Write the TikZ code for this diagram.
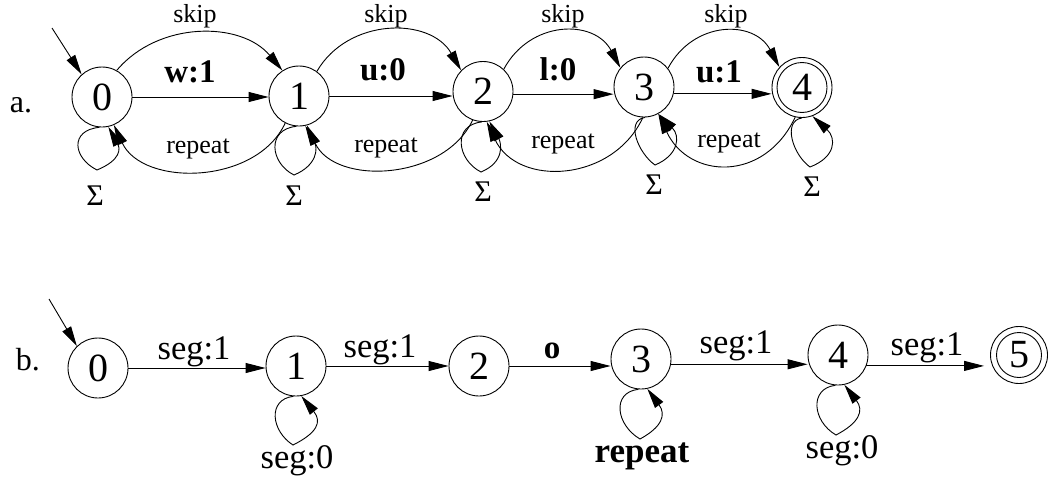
\documentclass[tikz,border=0pt]{standalone}
\usepackage{fontspec}
\setmainfont{Liberation Serif}
\usetikzlibrary{arrows.meta}
\begin{document}
\begin{tikzpicture}[x=1pt,y=1pt,
  state/.style={circle,draw,line width=0.9pt,minimum size=60pt,inner sep=0pt,font=\fontsize{40}{40}\selectfont},
  arr/.style={line width=0.9pt,-{Triangle[length=20pt,width=10pt]}},
  lbl/.style={inner sep=0pt,anchor=base,font=\fontsize{26}{26}\selectfont},
  blbl/.style={inner sep=0pt,anchor=base,font=\fontsize{33}{33}\selectfont\bfseries},
  seglbl/.style={inner sep=0pt,anchor=base,font=\fontsize{34.5}{34.5}\selectfont},
  sig/.style={inner sep=0pt,anchor=base,font=\fontsize{30}{30}\selectfont},
  tag/.style={inner sep=0pt,anchor=base,font=\fontsize{32}{32}\selectfont},
]
\useasboundingbox (0,0) rectangle (1049,-479);

% ---------- a. ----------
\node[tag] (la) at (21,-112) {a.};
\node[state] (n0) at (102,-97) {0};
\node[state] (n1) at (299,-96) {1};
\node[state] (n2) at (483,-91.5) {2};
\node[state] (n3) at (644,-87) {3};
\node[state] (n4) at (802,-87.5) {4};
\draw[line width=0.9pt] (n4.center) circle (25);
\coordinate (s0) at (52,-28);
\draw[arr] (s0) -- (n0.132);

% straight transitions
\draw[arr] (n0.east) -- (n0.east -| n1.west);
\draw[arr] (n1.east) -- (n1.east -| n2.west);
\draw[arr] (n2.-5) -- (n2.-5 -| n3.west);
\draw[arr] (n3.-13) -- (n3.-13 -| n4.west);
\node[blbl] (w1) at (190,-82) {w:1};
\node[blbl] (u0) at (383,-80) {u:0};
\node[blbl] (l0lab) at (558,-80) {l:0};
\node[blbl] (u1) at (719,-82) {u:1};

% skip arcs
\draw[arr] (n0.61) to[out=50,in=130] (n1.123);
\draw[arr] (n1.54) to[out=60,in=120,looseness=1.1] (n2.136);
\draw[arr] (n2.47) to[out=62,in=118,looseness=1.22] (n3.141);
\draw[arr] (n3.38) to[out=62,in=118,looseness=1.24] (n4.138);
\node[lbl] (sk1) at (195,-23) {skip};
\node[lbl] (sk2) at (386,-23) {skip};
\node[lbl] (sk3) at (563,-23) {skip};
\node[lbl] (sk4) at (726,-23) {skip};

% repeat arcs
\draw[arr] (n1.243) to[out=-115,in=-65,looseness=1.02] (n0.293);
\draw[arr] (n2.250) to[out=-115,in=-65,looseness=1.03] (n1.-75);
\draw[arr] (n3.268) to[out=-115,in=-65,looseness=1.18] (n2.-83);
\draw[arr] (n4.257) to[out=-115,in=-65,looseness=1.35] (n3.-62);
\node[lbl] (r1) at (198,-153) {repeat};
\node[lbl] (r2) at (386,-152) {repeat};
\node[lbl] (r3) at (563,-148) {repeat};
\node[lbl] (r4) at (729,-147) {repeat};

% sigma loops
\coordinate (q0) at (97,-170);
\coordinate (q1) at (294,-175);
\coordinate (q2) at (481,-172);
\coordinate (q3) at (655,-165);
\coordinate (q4) at (810,-167);
\draw[arr] (n0.265) .. controls +(-30,-3) and +(-24,12) .. (q0) .. controls +(24,10) and +(12,-22) .. (n0.-78);
\draw[arr] (n1.265) .. controls +(-30,-3) and +(-24,12) .. (q1) .. controls +(24,10) and +(12,-22) .. (n1.-78);
\draw[arr] (n2.268) .. controls +(-30,-3) and +(-24,12) .. (q2) .. controls +(24,10) and +(12,-22) .. (n2.-78);
\draw[arr] (n3.-88) .. controls +(-20,-3) and +(-17,12) .. (q3) .. controls +(24,10) and +(22,-22) .. (n3.-62);
\draw[arr] (n4.-90) .. controls +(-20,-3) and +(-17,12) .. (q4) .. controls +(26,10) and +(24,-22) .. (n4.-70);
\node[sig] (g0) at (95,-205) {Σ};
\node[sig] (g1) at (294,-205) {Σ};
\node[sig] (g2) at (483,-201) {Σ};
\node[sig] (g3) at (654,-194.5) {Σ};
\node[sig] (g4) at (812,-196.5) {Σ};

% ---------- b. ----------
\node[tag] (lb) at (28,-370) {b.};
\node[state] (b0) at (98,-368) {0};
\node[state] (b1) at (296,-366) {1};
\node[state] (b2) at (479,-366) {2};
\node[state] (b3) at (641,-359) {3};
\node[state] (b4) at (838,-355) {4};
\node[state,minimum size=57pt] (b5) at (1019,-355) {5};
\draw[line width=0.9pt] (b5.center) circle (22.5);
\coordinate (t0) at (49,-299);
\draw[arr] (t0) -- (b0.134);

\draw[arr] (b0.east) -- (b0.east -| b1.west);
\draw[arr] (b1.east) -- (b1.east -| b2.west);
\draw[arr] (b2.east) -- (b2.east -| b3.west);
\draw[arr] (b3.-10) -- (b3.-10 -| b4.west);
\draw[arr,shorten >=6pt] (b4.-21) -- (b4.-21 -| b5.west);
\node[seglbl] (e1) at (194,-359) {seg:1};
\node[seglbl] (e2) at (380,-357) {seg:1};
\node[blbl] (e3) at (552,-358) {o};
\node[seglbl] (e4) at (736,-353) {seg:1};
\node[seglbl] (e5) at (927,-355) {seg:1};

\coordinate (p1) at (293,-445);
\coordinate (p3) at (640,-439);
\coordinate (p4) at (836,-435);
\draw[arr] (b1.265) .. controls +(-26,-3) and +(-22,14) .. (p1) .. controls +(24,12) and +(21,-26) .. (b1.-80);
\draw[arr] (b3.265) .. controls +(-27,-3) and +(-24,14) .. (p3) .. controls +(22,12) and +(19,-26) .. (b3.-78);
\draw[arr] (b4.265) .. controls +(-26,-3) and +(-24,14) .. (p4) .. controls +(23,12) and +(20,-26) .. (b4.-78);
\node[seglbl] (f1) at (297,-468) {seg:0};
\node[blbl,font=\fontsize{35}{35}\selectfont\bfseries] (f3) at (642,-462) {repeat};
\node[seglbl] (f4) at (842,-458) {seg:0};
\end{tikzpicture}
\end{document}
